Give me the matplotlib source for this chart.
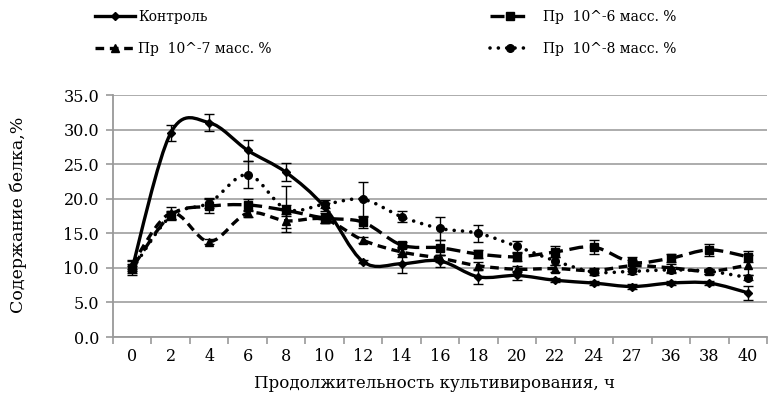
import matplotlib
matplotlib.use('Agg')
import matplotlib.pyplot as plt
import numpy as np
from matplotlib.path import Path
from matplotlib.patches import PathPatch
from matplotlib.lines import Line2D

plt.rcParams['font.family'] = ['DejaVu Serif', 'Liberation Serif']

# ---------------- data ----------------
hours = ['0', '2', '4', '6', '8', '10', '12', '14', '16', '18', '20', '22', '24', '27', '36', '38', '40']

control = [10.0, 29.5, 31.0, 27.0, 23.8, 18.8, 10.9, 10.6, 11.0, 8.7, 8.9, 8.2, 7.8, 7.3, 7.8, 7.8, 6.4]
control_err = [1.0, 1.1, 1.2, 1.5, 1.3, 0.6, 0.2, 1.4, 0.9, 1.0, 0.6, 0.3, 0.3, 0.3, 0.3, 0.3, 1.0]

pr6 = [10.0, 17.6, 18.9, 19.1, 18.3, 17.2, 16.6, 13.3, 12.9, 12.0, 11.6, 12.3, 13.0, 10.8, 11.4, 12.6, 11.6]
pr6_err = [0.5, 0.6, 1.0, 0.9, 0.8, 0.7, 0.9, 0.5, 1.1, 0.6, 0.6, 0.8, 1.0, 0.8, 0.6, 0.9, 0.8]

pr7 = [10.5, 17.9, 13.8, 17.9, 16.8, 17.0, 14.0, 12.3, 11.4, 10.3, 9.8, 9.9, 9.6, 10.3, 10.0, 9.5, 10.4]
pr7_err = [0.6, 0.9, 0.4, 0.5, 1.0, 0.5, 0.4, 0.7, 0.5, 0.5, 0.4, 0.5, 0.4, 0.8, 0.6, 0.4, 1.4]

pr8 = [9.8, 17.5, 19.4, 23.5, 18.5, 19.2, 19.9, 17.4, 15.7, 15.0, 13.1, 11.0, 9.4, 9.5, 9.7, 9.5, 8.6]
pr8_err = [0.5, 0.6, 0.7, 2.0, 3.3, 0.6, 2.5, 0.8, 1.6, 1.2, 0.8, 0.6, 0.4, 0.4, 0.4, 0.4, 0.4]

labels = ['Контроль', 'Пр  10^-6 масс. %', 'Пр  10^-7 масс. %', 'Пр  10^-8 масс. %']

# ---------------- figure ----------------
W, H = 768, 405
fig = plt.figure(figsize=(W / 100, H / 100), dpi=100)
ax = fig.add_axes([113 / W, 1 - 337 / H, (767 - 113) / W, (337 - 95) / H])

x = np.arange(len(hours))


def smooth_path(xs, ys):
    pts = np.column_stack([xs, ys]).astype(float)
    n = len(pts)
    verts = [pts[0]]
    codes = [Path.MOVETO]
    for i in range(n - 1):
        p0 = pts[i - 1] if i > 0 else pts[i]
        p1 = pts[i]
        p2 = pts[i + 1]
        p3 = pts[i + 2] if i + 2 < n else pts[i + 1]
        c1 = p1 + (p2 - p0) / 6.0
        c2 = p2 - (p3 - p1) / 6.0
        verts += [c1, c2, p2]
        codes += [Path.CURVE4] * 3
    return Path(verts, codes)


styles = [
    dict(ls='-', lw=2.4, marker='D', ms=4.0, cap='butt'),
    dict(ls=(0, (4.2, 2.0)), lw=2.4, marker='s', ms=5.5, cap='butt'),
    dict(ls=(0, (2.6, 1.7)), lw=2.4, marker='^', ms=6.0, cap='butt'),
    dict(ls=(0, (0.01, 2.3)), lw=2.6, marker='o', ms=5.5, cap='round'),
]
series = [(control, control_err), (pr6, pr6_err), (pr7, pr7_err), (pr8, pr8_err)]

handles = []
for (vals, errs), st, lab in zip(series, styles, labels):
    patch = PathPatch(smooth_path(x, vals), fill=False, edgecolor='black',
                      linewidth=st['lw'], linestyle=st['ls'], zorder=3)
    patch.set_capstyle(st['cap'])
    ax.add_patch(patch)
    ax.plot(x, vals, linestyle='none', marker=st['marker'], ms=st['ms'],
            color='black', zorder=4)
    ax.errorbar(x, vals, yerr=errs, fmt='none', ecolor='black',
                elinewidth=1.0, capsize=3.5, capthick=1.0, zorder=5)
    handles.append(Line2D([0], [0], color='black', lw=st['lw'], linestyle=st['ls'],
                          marker=st['marker'], ms=st['ms'],
                          dash_capstyle=st['cap'], label=lab))

# axes formatting
ax.set_xlim(-0.5, len(hours) - 0.5)
ax.set_ylim(0, 35)
ax.set_yticks(np.arange(0, 35.1, 5))
ax.set_yticklabels([f'{v:.1f}' for v in np.arange(0, 35.1, 5)])
ax.set_xticks(x)
ax.set_xticklabels(hours)
ax.set_xticks(np.arange(-0.5, len(hours)), minor=True)
ax.tick_params(axis='x', which='major', length=0, pad=8, labelsize=11.5)
ax.tick_params(axis='x', which='minor', length=5, width=1.2, color='#999999', direction='out')
ax.tick_params(axis='y', length=5, width=1.2, color='#999999', pad=5, labelsize=11.5)

ax.grid(axis='y', color='#A6A6A6', linewidth=1.3, zorder=0)
ax.set_axisbelow(True)
for side in ['top', 'right']:
    ax.spines[side].set_visible(False)
for side in ['left', 'bottom']:
    ax.spines[side].set_color('#999999')
    ax.spines[side].set_linewidth(1.3)

fig.text(18 / W, 1 - 215 / H, 'Содержание белка,%', rotation=90,
         ha='center', va='center', fontsize=12.5)
fig.text(435 / W, 1 - 384 / H, 'Продолжительность культивирования, ч',
         ha='center', va='center', fontsize=12)

leg1 = fig.legend(handles=[handles[0], handles[2]], loc='upper left',
                  bbox_to_anchor=(95 / W, 1 - 10 / H), frameon=False,
                  handlelength=2.9, handletextpad=0.2, labelspacing=1.3,
                  fontsize=10, borderpad=0, borderaxespad=0, numpoints=1)
leg2 = fig.legend(handles=[handles[1], handles[3]], loc='upper left',
                  bbox_to_anchor=(490 / W, 1 - 10 / H), frameon=False,
                  handlelength=2.9, handletextpad=0.9, labelspacing=1.3,
                  fontsize=10, borderpad=0, borderaxespad=0, numpoints=1)

fig.savefig('out.png', dpi=100)
